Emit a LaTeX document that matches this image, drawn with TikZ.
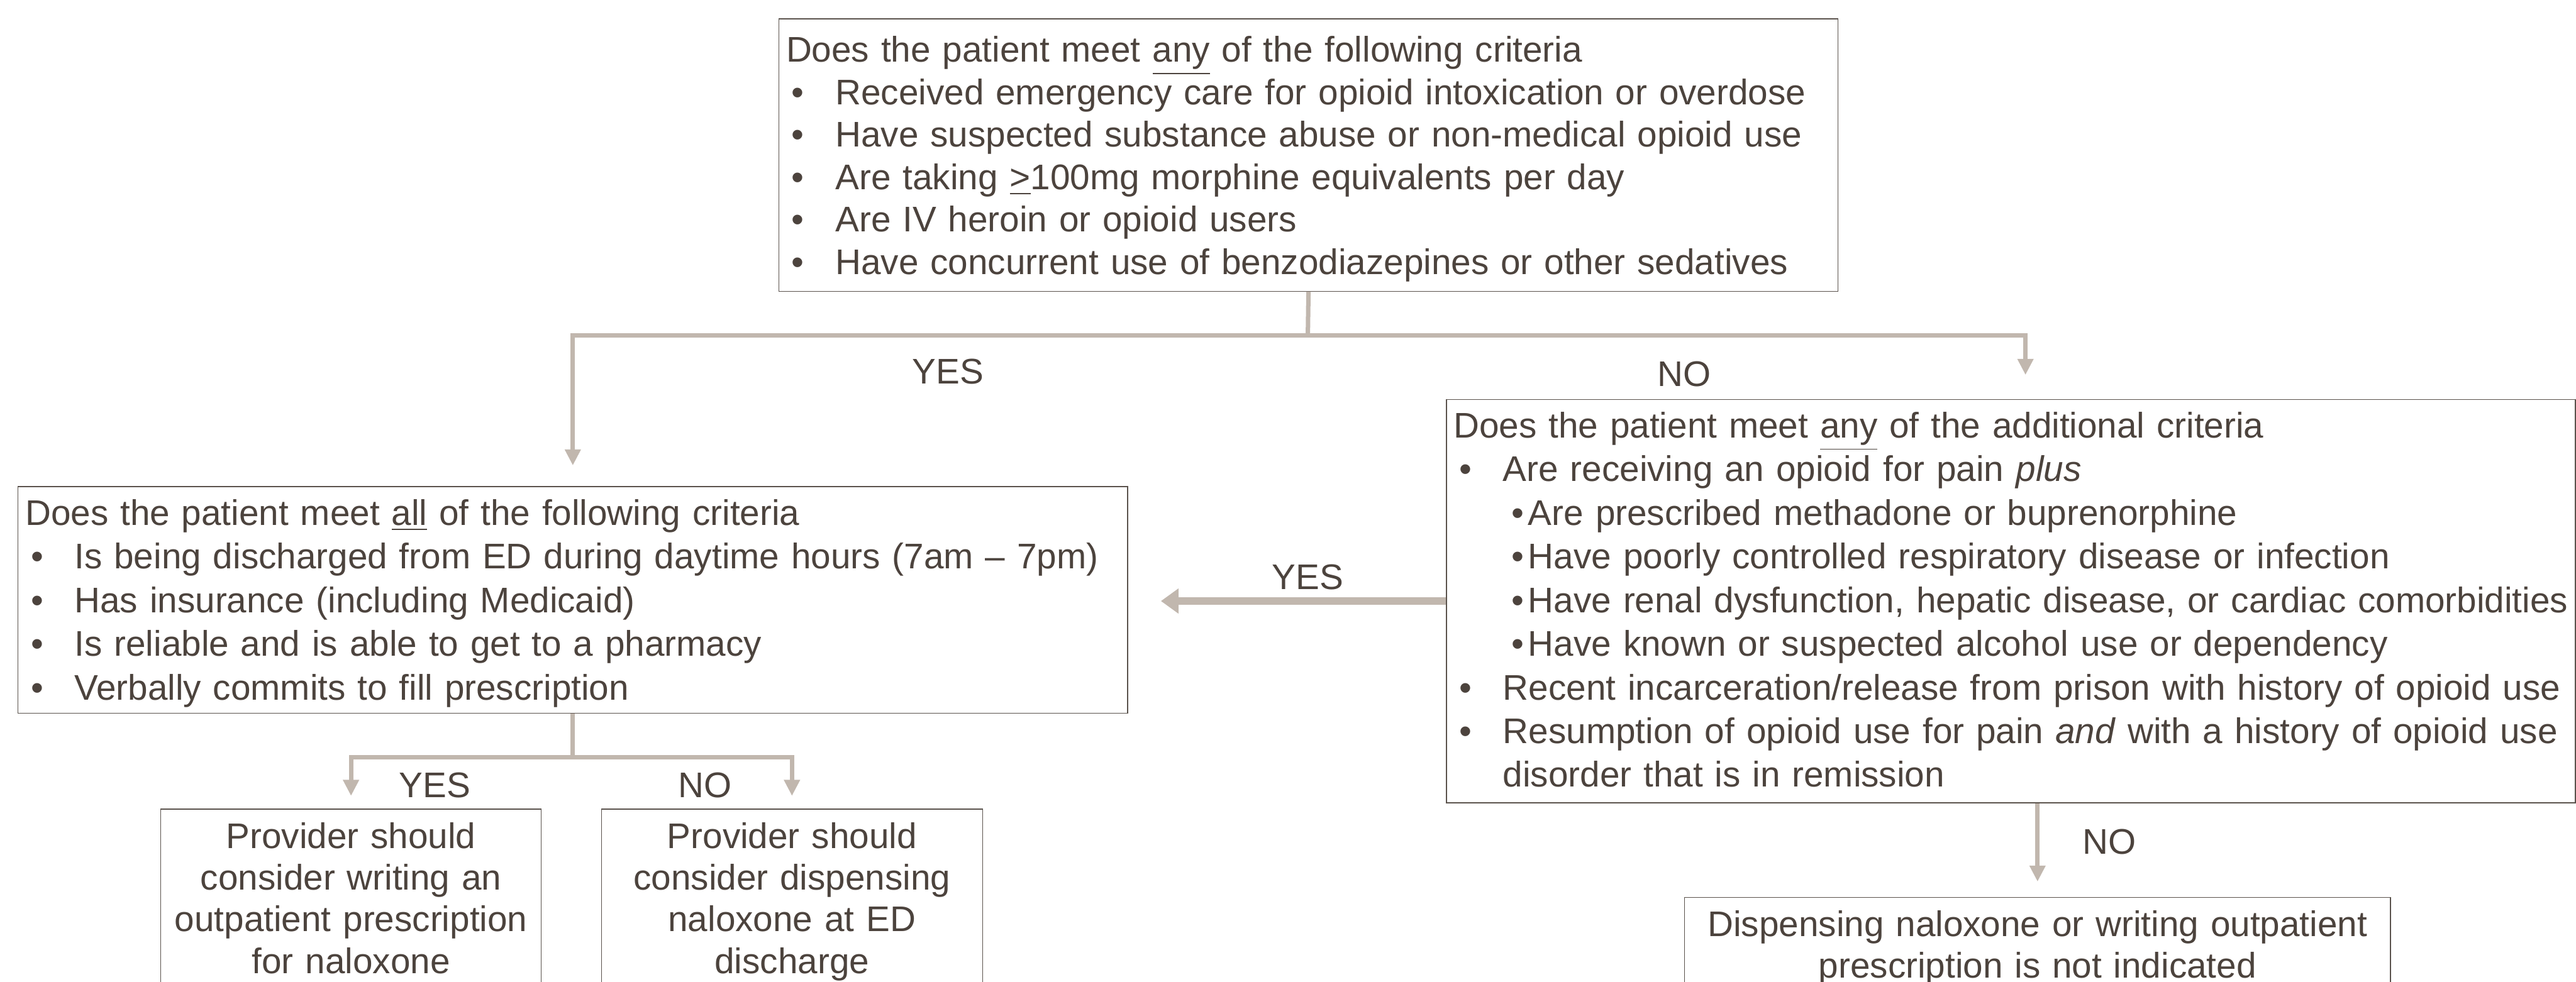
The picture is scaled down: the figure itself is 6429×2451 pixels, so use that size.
\documentclass[tikz,border=0pt]{standalone}
\usepackage{fontspec}
\setmainfont{Liberation Sans}
\usetikzlibrary{arrows.meta,positioning,calc}
\definecolor{ink}{HTML}{4C433D}
\definecolor{flow}{HTML}{C1B7AE}
\definecolor{edge}{HTML}{5A524C}
\newcommand{\fszat}[1]{\fontsize{12.65pt}{#1}\selectfont}
\newcommand{\fsz}{\fszat{5.45mm}}
\newcommand{\capst}[1][4.8mm]{\rule{0pt}{#1}}
\newcommand{\footst}[1][1.95mm]{\rule[-#1]{0pt}{#1}}
\newcommand{\bul}[1]{\mbox{\makebox[6.15mm][l]{\hspace{0.7mm}\textbullet}#1}}
\newcommand{\subbul}[1]{\mbox{\makebox[9.3mm][l]{\hspace{7.2mm}\textbullet}#1}}
\tikzset{
  crit/.style={draw=edge,line width=0.3pt,anchor=north west,inner xsep=0.9mm,
              inner ysep=0pt,align=left,text=ink,font=\fsz},
  outc/.style={crit,align=center,font=\fszat{5.2mm}},
  lbl/.style={text=ink,font=\fsz,inner sep=0pt,anchor=base},
  line/.style={draw=flow,line width=0.55mm},
  arr/.style={line,-{Triangle[width=1.9mm,length=2mm]}},
}
\begin{document}
\begin{tikzpicture}[x=0.05mm,y=-0.05mm]
  \useasboundingbox (0,0) rectangle (6429,2451);
  \clip (0,0) rectangle (6429,2451);
  % criteria boxes
  \node[crit,text width=130.35mm,font=\fszat{5.3mm}] (q1) at (1943,46)
    {\capst[5.4mm]Does the patient meet \underline{any} of the following criteria\\
     \bul{Received emergency care for opioid intoxication or overdose}\\
     \bul{Have suspected substance abuse or non-medical opioid use}\\
     \bul{Are taking \underline{>}100mg morphine equivalents per day}\\
     \bul{Are IV heroin or opioid users}\\
     \bul{Have concurrent use of benzodiazepines or other sedatives}\footst[2.1mm]};
  \node[crit,text width=136.65mm] (q2) at (44,1214)
    {\capst Does the patient meet \underline{all} of the following criteria\\
     \bul{Is being discharged from ED during daytime hours (7am – 7pm)}\\
     \bul{Has insurance (including Medicaid)}\\
     \bul{Is reliable and is able to get to a pharmacy}\\
     \bul{Verbally commits to fill prescription}\footst[1.7mm]};
  \node[crit,text width=139.05mm] (q3) at (3609,996)
    {\capst Does the patient meet \underline{any} of the additional criteria\\
     \bul{Are receiving an opioid for pain \emph{plus}}\\
     \subbul{Are prescribed methadone or buprenorphine}\\
     \subbul{Have poorly controlled respiratory disease or infection}\\
     \subbul{Have renal dysfunction, hepatic disease, or cardiac comorbidities}\\
     \subbul{Have known or suspected alcohol use or dependency}\\
     \bul{Recent incarceration/release from prison with history of opioid use}\\
     \bul{Resumption of opioid use for pain \emph{and} with a history of opioid use}\\
     \mbox{\hspace*{6.15mm}disorder that is in remission}\footst};
  % outcome boxes
  \node[outc,text width=45.7mm] (a1) at (400,2019)
    {\capst[4.9mm]Provider should\\consider writing an\\outpatient prescription\\for naloxone\footst[2mm]};
  \node[outc,text width=45.75mm] (a2) at (1500,2019)
    {\capst[4.9mm]Provider should\\consider dispensing\\naloxone at ED\\discharge\footst[2mm]};
  \node[outc,text width=86.3mm] (q4) at (4203,2239)
    {\capst[4.9mm]Dispensing naloxone or writing outpatient\\prescription is not indicated\footst[2mm]};
  % branch labels
  \node[lbl] (y1) at (2366,959) {YES};
  \node[lbl] (n1) at (4203,965) {NO};
  \node[lbl] (y2) at (3264,1471) {YES};
  \node[lbl] (y3) at (1085,1991) {YES};
  \node[lbl] (n3) at (1760,1991) {NO};
  \node[lbl] (n4) at (5265,2132) {NO};
  % connectors
  \coordinate (j1) at (3264,838);
  \coordinate (j1r) at (5055,838);
  \coordinate (j2) at ($(q2.south)+(0,108)$);
  \draw[line] (q1.south) -- (j1);
  \draw[arr,shorten >=2.6mm] (j1) -| (q2.north);
  \draw[arr,shorten >=3mm] (j1) -| (q3.north -| j1r);
  \draw[arr,line width=0.9mm,-{Triangle[width=3mm,length=2.2mm]},shorten >=4.1mm]
    (q3.west) -- (q3.west -| q2.east);
  \draw[line] (q2.south) -- (j2);
  \draw[arr,shorten >=1.6mm] (j2) -| (a1.north);
  \draw[arr,shorten >=1.6mm] (j2) -| (a2.north);
  \draw[arr,shorten >=1.9mm] (q3.south -| q4.north) -- (q4.north);
\end{tikzpicture}
\end{document}
